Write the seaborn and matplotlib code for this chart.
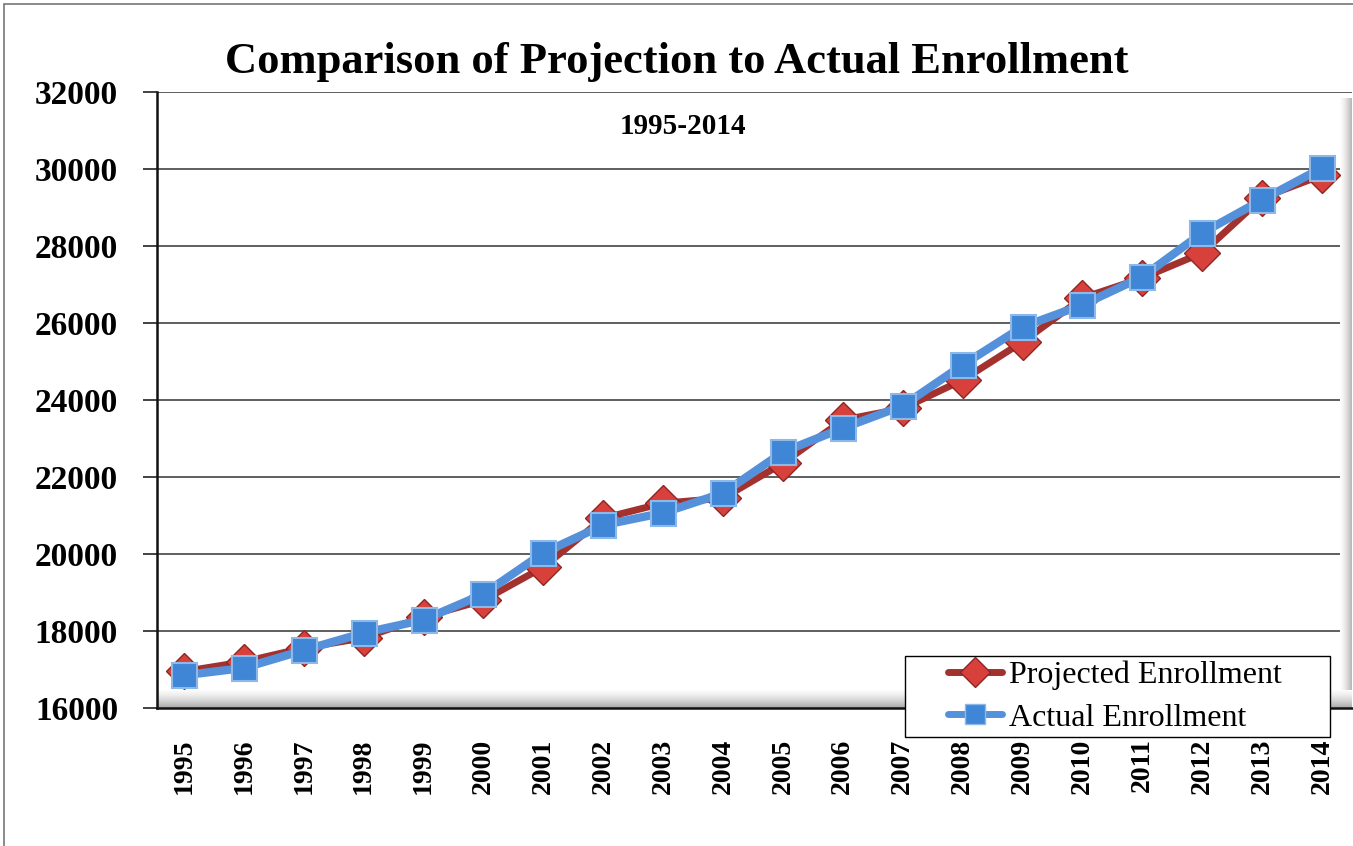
import matplotlib
matplotlib.use("Agg")
import matplotlib.pyplot as plt
import numpy as np
import pandas as pd
import seaborn as sns
from matplotlib.patches import Rectangle
from matplotlib.lines import Line2D

years = [str(y) for y in range(1995, 2015)]
projected = [16950, 17200, 17560, 17820, 18360, 18800, 19660, 20930, 21320, 21450,
             22360, 23480, 23780, 24520, 25510, 26650, 27170, 27820, 29250, 29840]
actual = [16850, 17040, 17500, 17950, 18290, 18960, 20030, 20750, 21070, 21580,
          22650, 23270, 23850, 24910, 25900, 26470, 27200, 28340, 29200, 30030]
y_ticks = list(range(16000, 32001, 2000))

title = "Comparison of Projection to Actual Enrollment"
subtitle = "1995-2014"
series_names = ["Projected Enrollment", "Actual Enrollment"]

sns.set_theme(style="white")
plt.rcParams["font.family"] = ["Liberation Serif", "DejaVu Serif"]
plt.rcParams["text.color"] = "black"
plt.rcParams["xtick.color"] = "black"
plt.rcParams["ytick.color"] = "black"

df = pd.DataFrame({"pos": np.arange(len(years)), "year": years,
                   "projected": projected, "actual": actual})

W, H = 1353, 846
fig = plt.figure(figsize=(W / 100, H / 100), dpi=100)
ax = fig.add_axes([157 / W, (H - 708) / H, 1195 / W, 616 / H])

red_line, red_mark = "#A3322E", "#D8413B"
blue_line, blue_mark = "#5591DB", "#3F86D6"

sns.lineplot(data=df, x="pos", y="projected", ax=ax, color=red_line, lw=5,
             marker="D", markersize=18, markerfacecolor=red_mark,
             markeredgecolor="#8E2522", markeredgewidth=1, zorder=3)
sns.lineplot(data=df, x="pos", y="actual", ax=ax, color=blue_line, lw=6,
             marker="s", markersize=18, markerfacecolor=blue_mark,
             markeredgecolor="#8DB8E8", markeredgewidth=1.5, zorder=4)

ax.set_xlim(-0.45, len(years) - 0.55)
ax.set_ylim(y_ticks[0], y_ticks[-1])
ax.set_yticks(y_ticks)
ax.set_yticklabels([str(v) for v in y_ticks], fontsize=24, fontweight="bold")
ax.set_xticks(df["pos"])
ax.set_xticklabels(years, rotation=90, fontsize=20, fontweight="bold")
ax.set_xticks(np.arange(len(years)) + 0.5, minor=True)
ax.tick_params(axis="x", which="major", length=0, pad=22)
ax.tick_params(axis="x", which="minor", length=8, width=1.2, color="#222222", direction="out")
ax.tick_params(axis="y", length=10, width=1.2, color="#222222", direction="out", pad=18, left=True)
ax.set_xlabel("")
ax.set_ylabel("")

ax.grid(axis="y", color="#333333", lw=1.1)
ax.set_axisbelow(True)
for side in ["top", "right"]:
    ax.spines[side].set_visible(False)
ax.spines["left"].set_color("#111111")
ax.spines["left"].set_linewidth(1.8)
ax.spines["bottom"].set_color("#111111")
ax.spines["bottom"].set_linewidth(1.8)

# 3d-style floor and side wall shading
floor = np.linspace(0.0, 0.45, 50).reshape(-1, 1)
ax.imshow(floor, cmap="Greys", vmin=0, vmax=1, aspect="auto",
          extent=[0, 1, 0, 0.03], transform=ax.transAxes, zorder=1)
wall = np.linspace(0.0, 0.4, 30).reshape(1, -1)
ax.imshow(wall, cmap="Greys", vmin=0, vmax=1, aspect="auto",
          extent=[0.99, 1.0, 0.03, 0.99], transform=ax.transAxes, zorder=1)

fig.text(677 / W, 1 - 62 / H, title, ha="center", va="center",
         fontsize=32, fontweight="bold")
ax.text(0.44, (708 - 126) / 616, subtitle, transform=ax.transAxes, ha="center",
        va="center", fontsize=21, fontweight="bold")

handles = [
    Line2D([], [], color=red_line, lw=5, marker="D", markersize=15,
           markerfacecolor=red_mark, markeredgecolor="#8E2522"),
    Line2D([], [], color=blue_line, lw=5, marker="s", markersize=15,
           markerfacecolor=blue_mark, markeredgecolor="#8DB8E8"),
]
leg = fig.legend(handles, series_names, loc="upper left",
                 bbox_to_anchor=(948 / W, 1 - 661 / H), fontsize=23,
                 frameon=False, handlelength=1.7, handletextpad=0.2,
                 borderpad=0, labelspacing=0.4, borderaxespad=0)
leg.set_zorder(10)
fig.patches.append(Rectangle((905 / W, 1 - 737 / H), 425 / W, 81 / H,
                             transform=fig.transFigure, facecolor="white",
                             edgecolor="black", lw=1, zorder=9))

fig.patches.append(Rectangle((4 / W, -0.01), 1.1, 1 - 4 / H + 0.01,
                             transform=fig.transFigure, fill=False,
                             edgecolor="#777777", lw=1.2))

fig.savefig("out.png", dpi=100)
